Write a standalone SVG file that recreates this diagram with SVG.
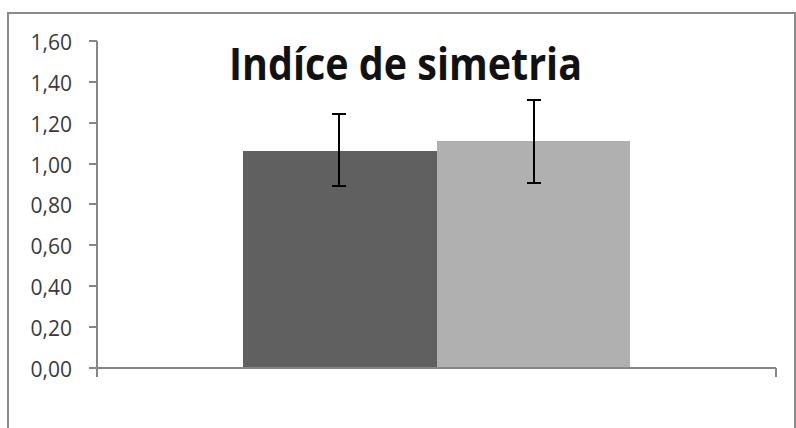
<svg xmlns="http://www.w3.org/2000/svg" width="796" height="428" viewBox="0 0 796 428">
<style>
.lbl{font-family:"Open Sans","Liberation Sans",sans-serif;font-size:21px;fill:#3a3a3a;text-anchor:end}
.ax{stroke:#868686;stroke-width:2;fill:none}
.err{stroke:#000;stroke-width:2;fill:none}
</style>
<rect x="0" y="0" width="796" height="428" fill="#fff"/>
<rect x="8" y="13" width="787" height="430" fill="#fff" stroke="#8a8a8a" stroke-width="2"/>
<text x="229" y="80" font-family="'Open Sans','Liberation Sans',sans-serif" font-weight="bold" font-size="44" fill="#111" textLength="353" lengthAdjust="spacingAndGlyphs">Indíce de simetria</text>
<g id="yaxis">
<path class="ax" d="M97 41V368M89 41H97M89 82H97M89 123H97M89 164H97M89 204H97M89 245H97M89 286H97M89 327H97M89 368H97"/>
<text class="lbl" x="72" y="50">1,60</text>
<text class="lbl" x="72" y="91">1,40</text>
<text class="lbl" x="72" y="132">1,20</text>
<text class="lbl" x="72" y="173">1,00</text>
<text class="lbl" x="72" y="213">0,80</text>
<text class="lbl" x="72" y="254">0,60</text>
<text class="lbl" x="72" y="295">0,40</text>
<text class="lbl" x="72" y="336">0,20</text>
<text class="lbl" x="72" y="377">0,00</text>
</g>
<g id="bar1"><rect x="243" y="151" width="194" height="217" fill="#606060"/></g>
<g id="bar2"><rect x="437" y="141" width="193" height="227" fill="#b0b0b0"/></g>
<g id="xaxis"><path class="ax" d="M97 368H776M97 368V377M776 368V377"/></g>
<g id="errors">
<path class="err" d="M339 114V186M332 114H346M332 186H346"/>
<path class="err" d="M534 100V183M527 100H541M527 183H541"/>
</g>
</svg>
